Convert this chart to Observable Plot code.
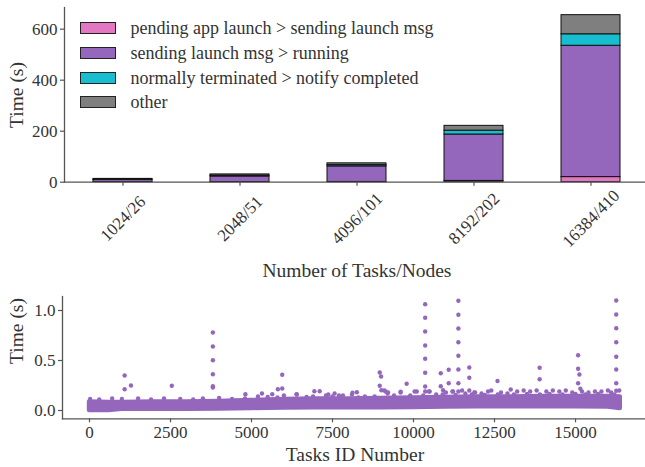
<!DOCTYPE html>
<html><head><meta charset="utf-8">
<script src="https://cdn.jsdelivr.net/npm/d3@7"></script>
<script src="https://cdn.jsdelivr.net/npm/@observablehq/plot@0.6"></script>
<style>
body{margin:0;overflow:hidden;background:#fff;}
#wrap{position:relative;width:645px;height:467px;font-family:"Liberation Serif",serif;color:#333;}
#wrap svg{display:block;overflow:visible;}
.lbl{position:absolute;font-family:"Liberation Serif",serif;font-size:19.5px;line-height:1;white-space:nowrap;color:#333;}
.legend{position:absolute;left:80px;top:22px;font-family:"Liberation Serif",serif;}
.legend .row{position:relative;height:24.8px;}
.legend .sw{position:absolute;left:0;top:0;width:34px;height:10px;border:1px solid #222;}
.legend .tx{position:absolute;left:50.5px;top:-3px;font-family:"Liberation Serif",serif;font-size:18px;line-height:1;white-space:nowrap;color:#333;}
</style></head><body><div id="wrap"></div>
<script>
// ---------- top panel data ----------
const categories = ["1024/26", "2048/51", "4096/101", "8192/202", "16384/410"];
const seriesNames = [
  "pending app launch > sending launch msg",
  "sending launch msg > running",
  "normally terminated > notify completed",
  "other"
];
const seriesColors = ["#e377c2", "#9467bd", "#17becf", "#7f7f7f"];
const pendingApp = [0.5, 0.5, 1, 5, 20];
const sendingLaunch = [8, 22, 61, 182, 515];
const normallyTerminated = [1.5, 3, 5, 15, 45];
const otherTime = [3, 5, 7, 19, 75];
const topYTicks = [0, 200, 400, 600];

// ---------- bottom panel data ----------
const xTicks = [0, 2500, 5000, 7500, 10000, 12500, 15000];
const yTicks = [0, 0.5, 1.0];
// dense cloud of points: task id, lowest and highest values of the cloud
const bandIds  = [0, 600, 1000, 2000, 3000, 4000, 5000, 6000, 7000, 8000, 9000, 10000, 11000, 12000, 13000, 14000, 15000, 16000, 16383];
const bandLow  = [0.0, 0.0, 0.013, 0.013, 0.013, 0.015, 0.02, 0.025, 0.027, 0.027, 0.027, 0.03, 0.035, 0.037, 0.037, 0.037, 0.037, 0.035, 0.02];
const bandHigh = [0.085, 0.08, 0.08, 0.085, 0.085, 0.09, 0.10, 0.11, 0.115, 0.115, 0.12, 0.125, 0.13, 0.135, 0.135, 0.14, 0.14, 0.14, 0.135];
// points along the top edge of the cloud
const fringeIds = [20, 300, 700, 1000, 1500, 1900, 2300, 2800, 3200, 3500, 4000, 4400, 4800,
  5200, 5500, 5800, 6000, 6400, 6700, 6900, 7300, 7500, 7700, 8100, 8300, 8500, 8800, 9100, 9200, 9400, 9600, 9900, 10100, 10300,
  10500, 10700, 10900, 11000, 11200, 11300, 11500, 11600, 11800, 11900, 12100, 12200, 12300, 12400, 12600, 12700, 12900, 13100, 13200,
  13400, 13500, 13600, 13800, 13900, 14100, 14200, 14300, 14500, 14600, 14700, 14900, 15000, 15200, 15300, 15400, 15600, 15700, 15800, 16000, 16100, 16200, 16350];
const fringeTimes = [0.115, 0.11, 0.12, 0.115, 0.12, 0.11, 0.12, 0.115, 0.11, 0.12, 0.125, 0.115, 0.12,
  0.14, 0.135, 0.13, 0.15, 0.16, 0.135, 0.14, 0.15, 0.14, 0.15, 0.16, 0.13, 0.14, 0.14, 0.2, 0.17, 0.15, 0.18, 0.15, 0.19, 0.15,
  0.19, 0.16, 0.16, 0.18, 0.19, 0.155, 0.2, 0.17, 0.16, 0.18, 0.17, 0.155, 0.19, 0.2, 0.16, 0.18, 0.17, 0.16, 0.19,
  0.2, 0.165, 0.19, 0.2, 0.16, 0.19, 0.165, 0.2, 0.19, 0.16, 0.2, 0.18, 0.165, 0.19, 0.16, 0.18, 0.19, 0.165, 0.19, 0.2, 0.18, 0.16, 0.2];
// isolated slow tasks
const outlierIds = [1085, 1085, 1280, 2540, 3808, 3808, 3808, 3808, 3808, 3808,
  4812, 5323, 5641, 5815, 5948, 5948, 6388, 6940, 7104, 7371, 7565, 7823, 8118, 8252,
  8958, 8999, 8958, 9009, 9143, 9214, 9604, 9788, 10034,
  10360, 10360, 10360, 10360, 10360, 10360, 10360, 10360, 10473,
  10841, 10841, 10913, 11087, 11087, 11220,
  11385, 11385, 11385, 11385, 11385, 11385, 11385, 11385,
  11722, 11722, 11722, 11876, 12592, 13001, 13892, 13892,
  15080, 15080, 15120, 15080, 15150,
  16257, 16257, 16257, 16257, 16257, 16257, 16257, 16257];
const outlierTimes = [0.35, 0.213, 0.25, 0.247, 0.78, 0.64, 0.503, 0.363, 0.243, 0.23,
  0.163, 0.17, 0.163, 0.213, 0.22, 0.357, 0.163, 0.193, 0.193, 0.16, 0.17, 0.15, 0.177, 0.183,
  0.38, 0.34, 0.247, 0.203, 0.19, 0.18, 0.187, 0.267, 0.19,
  1.063, 0.927, 0.79, 0.65, 0.517, 0.377, 0.24, 0.19, 0.19,
  0.373, 0.243, 0.203, 0.407, 0.273, 0.19,
  1.097, 0.957, 0.82, 0.683, 0.547, 0.41, 0.273, 0.19,
  0.43, 0.327, 0.2, 0.18, 0.295, 0.21, 0.427, 0.313,
  0.553, 0.417, 0.36, 0.273, 0.217,
  1.1, 0.96, 0.823, 0.683, 0.537, 0.41, 0.273, 0.197];

const purple = "#9467bd";
const axisColor = "#555";
const font = {fontFamily: "Liberation Serif", fontSize: "17px", color: "#333", background: "white", overflow: "visible"};

// ---------- build tables ----------
const seriesArrays = [pendingApp, sendingLaunch, normallyTerminated, otherTime];
const stackData = [];
categories.forEach((c, i) => seriesArrays.forEach((arr, k) => stackData.push({cat: c, series: seriesNames[k], value: arr[i]})));
const band = bandIds.map((id, i) => ({id, low: bandLow[i], high: bandHigh[i]}));
const fringe = fringeIds.map((id, i) => ({id, t: fringeTimes[i]}));
const outliers = outlierIds.map((id, i) => ({id, t: outlierTimes[i]}));

const wrap = document.getElementById("wrap");

const topChart = Plot.plot({
  width: 645, height: 285,
  marginLeft: 64, marginRight: -4, marginTop: 7, marginBottom: 103.3,
  style: font,
  x: {domain: categories, paddingInner: 0.5, paddingOuter: 0.25, label: null},
  y: {domain: [0, 685], label: null},
  color: {domain: seriesNames, range: seriesColors},
  marks: [
    Plot.barY(stackData, {x: "cat", y: "value", fill: "series", stroke: "#111", strokeWidth: 1}),
    Plot.axisY({ticks: topYTicks, tickSize: 4, tickPadding: 3, label: null, stroke: axisColor, strokeWidth: 1.2}),
    Plot.axisX({tickSize: 4, tickFormat: () => "", label: null, stroke: axisColor, strokeWidth: 1.2}),
    Plot.text(categories, {x: d => d, frameAnchor: "bottom", dy: 36.5, rotate: -45, textAnchor: "middle", lineAnchor: "middle", fill: "#333", fontSize: 17}),
    Plot.frame({anchor: "left", stroke: axisColor, strokeWidth: 1.3}),
    Plot.frame({anchor: "bottom", stroke: axisColor, strokeWidth: 1.3})
  ]
});
wrap.appendChild(topChart);

const botChart = Plot.plot({
  width: 645, height: 182,
  marginLeft: 62, marginRight: 0, marginTop: 11, marginBottom: 48.7,
  style: font,
  x: {domain: [-833, 17160], label: null},
  y: {domain: [-0.083, 1.14], label: null},
  marks: [
    Plot.areaY(band, {x: "id", y1: "low", y2: "high", fill: purple, stroke: purple, strokeWidth: 4.4, strokeLinejoin: "round"}),
    Plot.dot(fringe, {x: "id", y: "t", r: 2.2, fill: purple}),
    Plot.dot(outliers, {x: "id", y: "t", r: 2.2, fill: purple}),
    Plot.axisX({ticks: xTicks, tickFormat: d => String(d), tickSize: 4, tickPadding: 3, label: null, stroke: axisColor, strokeWidth: 1.2}),
    Plot.axisY({ticks: yTicks, tickFormat: d3.format(".1f"), tickSize: 4, tickPadding: 3, label: null, stroke: axisColor, strokeWidth: 1.2}),
    Plot.frame({anchor: "left", stroke: axisColor, strokeWidth: 1.3}),
    Plot.frame({anchor: "bottom", stroke: axisColor, strokeWidth: 1.3})
  ]
});
wrap.appendChild(botChart);

// axis titles
function addLabel(text, x, y, rotate) {
  const d = document.createElement("div");
  d.className = "lbl";
  d.textContent = text;
  d.style.left = x + "px";
  d.style.top = y + "px";
  d.style.transform = "translate(-50%,-50%)" + (rotate ? " rotate(-90deg)" : "");
  wrap.appendChild(d);
}
addLabel("Time (s)", 17, 95, true);
addLabel("Number of Tasks/Nodes", 357, 271, false);
addLabel("Time (s)", 17, 331, true);
addLabel("Tasks ID Number", 355, 455, false);

// legend
const lg = document.createElement("div");
lg.className = "legend";
seriesNames.forEach((name, k) => {
  const row = document.createElement("div");
  row.className = "row";
  const sw = document.createElement("div");
  sw.className = "sw";
  sw.style.background = seriesColors[k];
  const tx = document.createElement("div");
  tx.className = "tx";
  tx.textContent = name;
  row.appendChild(sw); row.appendChild(tx);
  lg.appendChild(row);
});
wrap.appendChild(lg);
</script></body></html>
